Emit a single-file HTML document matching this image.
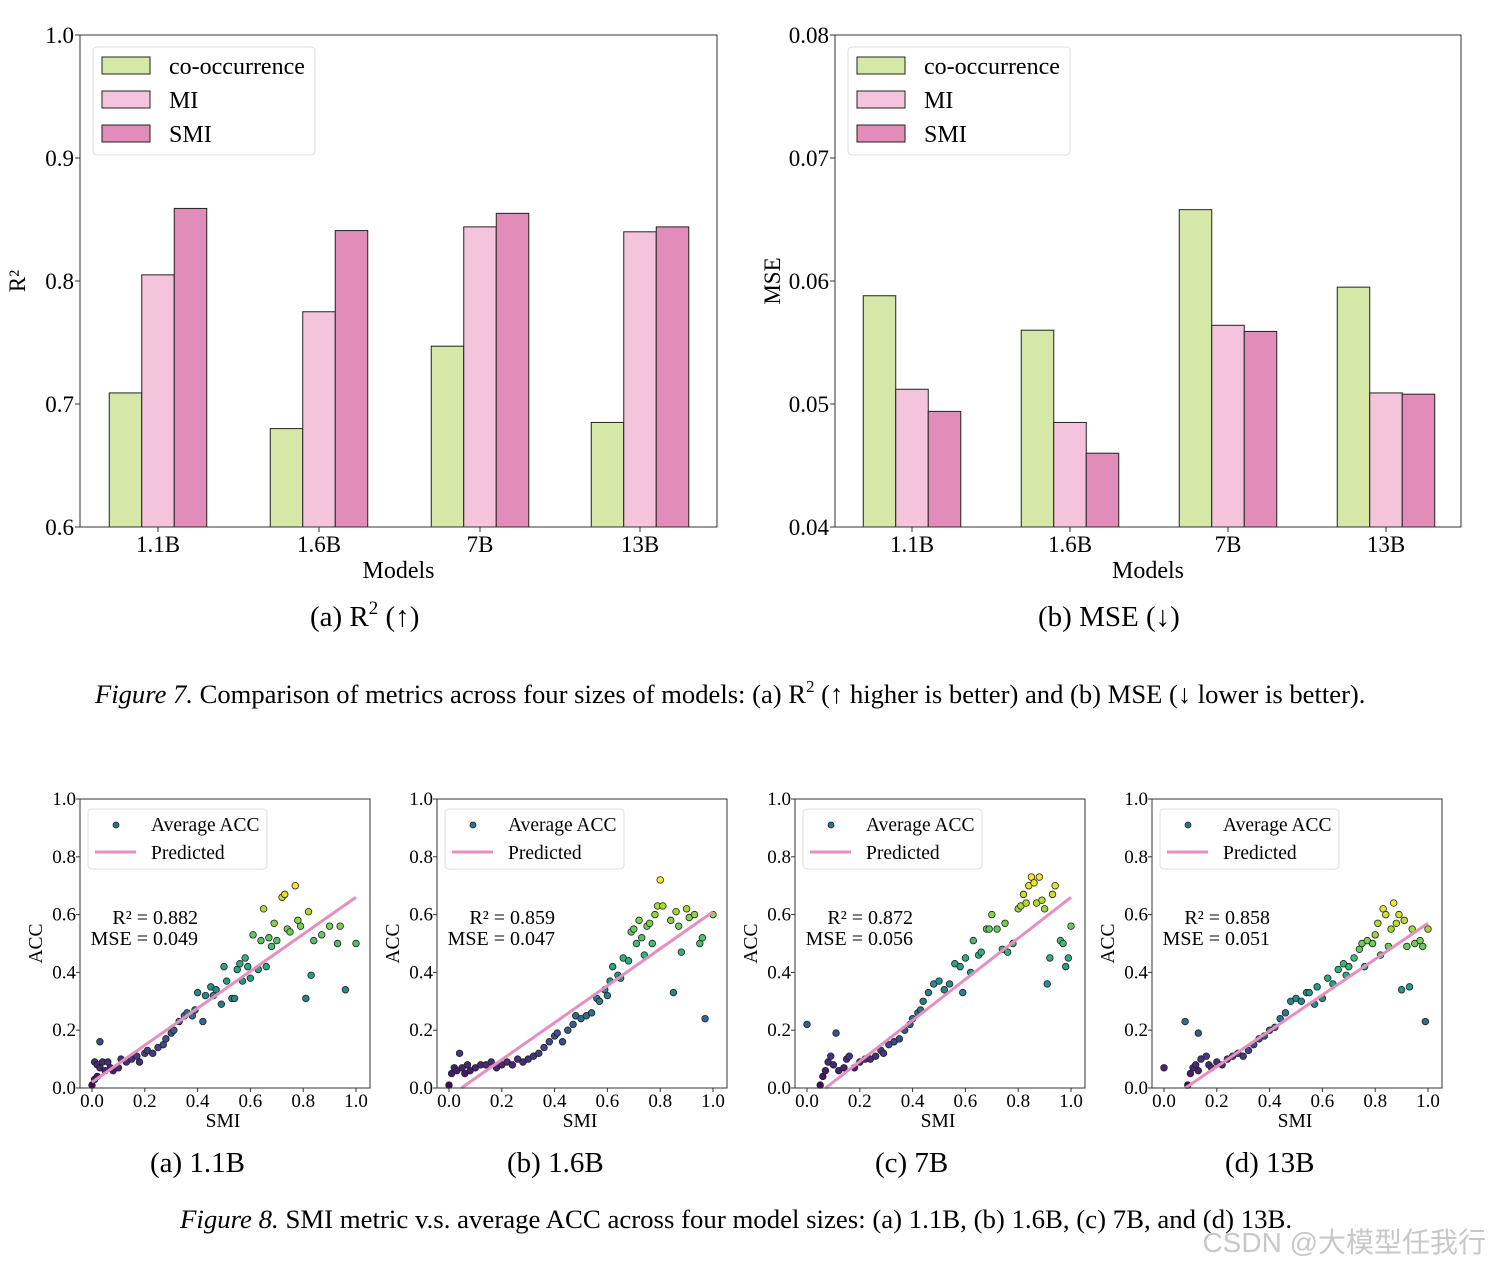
<!DOCTYPE html>
<html><head><meta charset="utf-8"><style>
body{margin:0;background:#fff;}
svg{display:block;font-family:"Liberation Serif","Noto Serif CJK SC",serif;}
</style></head><body>
<svg id="fig" width="1490" height="1268" viewBox="0 0 1490 1268" xmlns="http://www.w3.org/2000/svg">
<rect width="1490" height="1268" fill="#fff"/>
<text x="310" y="626" font-size="29">(a) R<tspan dy="-12" font-size="19">2</tspan><tspan dy="12"> (↑)</tspan></text>
<text x="1038" y="626" font-size="29">(b) MSE (↓)</text>
<text x="95" y="703" font-size="26.6"><tspan font-style="italic">Figure 7.</tspan> Comparison of metrics across four sizes of models: (a) R<tspan dy="-11" font-size="17">2</tspan><tspan dy="11"> (↑ higher is better) and (b) MSE (↓ lower is better).</tspan></text>
<text x="150" y="1172" font-size="29">(a) 1.1B</text>
<text x="507" y="1172" font-size="29">(b) 1.6B</text>
<text x="875" y="1172" font-size="29">(c) 7B</text>
<text x="1225" y="1172" font-size="29">(d) 13B</text>
<text x="180" y="1228" font-size="26.8"><tspan font-style="italic">Figure 8.</tspan> SMI metric v.s. average ACC across four model sizes: (a) 1.1B, (b) 1.6B, (c) 7B, and (d) 13B.</text>
<text x="1486" y="1252" font-size="28" text-anchor="end" fill="#c8c8c8" font-family="Liberation Sans,Noto Sans CJK SC,sans-serif">CSDN @大模型任我行</text>
</svg>
<script>
const models=["1.1B","1.6B","7B","13B"];
const seriesNames=["co-occurrence","MI","SMI"];
const r2Co=[0.709,0.680,0.747,0.685];
const r2MI=[0.805,0.775,0.844,0.840];
const r2SMI=[0.859,0.841,0.855,0.844];
const r2Ticks=["0.6","0.7","0.8","0.9","1.0"];
const mseCo=[0.0588,0.0560,0.0658,0.0595];
const mseMI=[0.0512,0.0485,0.0564,0.0509];
const mseSMI=[0.0494,0.0460,0.0559,0.0508];
const mseTicks=["0.04","0.05","0.06","0.07","0.08"];

const p1x=[0,0.01,0.01,0.02,0.02,0.03,0.03,0.04,0.05,0.06,0.07,0.08,0.1,0.11,0.13,0.15,0.17,0.18,0.2,0.21,0.23,0.25,0.27,0.28,0.3,0.31,0.33,0.35,0.36,0.38,0.39,0.4,0.42,0.43,0.45,0.46,0.47,0.49,0.5,0.51,0.53,0.54,0.55,0.56,0.57,0.58,0.59,0.6,0.61,0.63,0.64,0.65,0.66,0.67,0.68,0.69,0.7,0.72,0.73,0.74,0.75,0.77,0.78,0.79,0.81,0.82,0.83,0.84,0.87,0.9,0.93,0.94,0.96,1.0];
const p1y=[0.01,0.03,0.09,0.08,0.04,0.16,0.07,0.09,0.06,0.09,0.07,0.06,0.07,0.1,0.09,0.1,0.11,0.09,0.12,0.13,0.12,0.14,0.15,0.17,0.19,0.2,0.23,0.25,0.26,0.25,0.27,0.33,0.23,0.32,0.35,0.32,0.34,0.29,0.42,0.37,0.31,0.31,0.41,0.43,0.37,0.45,0.42,0.38,0.53,0.41,0.51,0.62,0.42,0.52,0.49,0.57,0.51,0.66,0.67,0.55,0.54,0.7,0.58,0.56,0.31,0.61,0.39,0.51,0.53,0.56,0.5,0.56,0.34,0.5];
const p1fit=[0.02,0.66];
const p2x=[0,0.01,0.02,0.03,0.04,0.05,0.06,0.07,0.08,0.1,0.12,0.14,0.16,0.18,0.2,0.22,0.24,0.26,0.28,0.3,0.32,0.34,0.36,0.38,0.4,0.41,0.43,0.45,0.47,0.48,0.5,0.52,0.54,0.56,0.57,0.59,0.6,0.61,0.62,0.64,0.65,0.66,0.68,0.69,0.7,0.71,0.72,0.73,0.74,0.75,0.76,0.77,0.79,0.8,0.81,0.78,0.84,0.85,0.86,0.87,0.88,0.9,0.91,0.93,0.95,0.96,0.97,1.0];
const p2y=[0.01,0.05,0.07,0.06,0.12,0.07,0.05,0.08,0.06,0.07,0.08,0.08,0.09,0.07,0.08,0.09,0.08,0.1,0.09,0.1,0.11,0.12,0.14,0.16,0.18,0.19,0.16,0.2,0.22,0.25,0.24,0.25,0.26,0.31,0.3,0.34,0.32,0.37,0.42,0.39,0.38,0.45,0.44,0.54,0.55,0.5,0.58,0.52,0.46,0.56,0.57,0.5,0.63,0.72,0.63,0.6,0.58,0.33,0.61,0.56,0.47,0.62,0.59,0.6,0.5,0.52,0.24,0.6];
const p2fit=[-0.03,0.61];
const p3x=[0,0.05,0.06,0.07,0.08,0.09,0.1,0.11,0.12,0.14,0.15,0.16,0.18,0.2,0.22,0.24,0.26,0.28,0.29,0.31,0.33,0.35,0.37,0.39,0.4,0.42,0.43,0.44,0.46,0.48,0.5,0.52,0.54,0.56,0.58,0.59,0.6,0.62,0.63,0.65,0.66,0.68,0.69,0.7,0.72,0.74,0.75,0.76,0.78,0.8,0.81,0.82,0.83,0.84,0.85,0.86,0.87,0.88,0.89,0.9,0.91,0.92,0.93,0.94,0.96,0.97,0.98,0.99,1.0];
const p3y=[0.22,0.01,0.04,0.06,0.09,0.11,0.08,0.19,0.06,0.07,0.1,0.11,0.07,0.09,0.1,0.1,0.11,0.13,0.12,0.15,0.16,0.17,0.2,0.22,0.24,0.26,0.27,0.3,0.33,0.36,0.37,0.34,0.36,0.43,0.42,0.33,0.45,0.4,0.51,0.46,0.47,0.55,0.55,0.6,0.55,0.48,0.57,0.47,0.5,0.62,0.63,0.67,0.64,0.7,0.73,0.71,0.64,0.73,0.65,0.62,0.36,0.45,0.67,0.7,0.51,0.5,0.42,0.45,0.56];
const p3fit=[-0.05,0.66];
const p4x=[0,0.08,0.13,0.09,0.1,0.11,0.12,0.13,0.14,0.16,0.17,0.18,0.2,0.22,0.24,0.26,0.28,0.3,0.32,0.34,0.36,0.38,0.4,0.42,0.44,0.46,0.48,0.5,0.52,0.54,0.55,0.57,0.58,0.6,0.62,0.64,0.66,0.68,0.69,0.7,0.72,0.74,0.75,0.76,0.77,0.79,0.8,0.81,0.82,0.83,0.84,0.85,0.86,0.87,0.88,0.89,0.9,0.91,0.92,0.93,0.94,0.95,0.97,0.98,0.99,1.0];
const p4y=[0.07,0.23,0.19,0.01,0.05,0.07,0.08,0.06,0.1,0.11,0.08,0.07,0.09,0.08,0.1,0.11,0.12,0.11,0.13,0.15,0.17,0.18,0.2,0.21,0.24,0.26,0.3,0.31,0.3,0.33,0.33,0.29,0.35,0.31,0.38,0.36,0.41,0.43,0.39,0.42,0.45,0.48,0.5,0.42,0.51,0.5,0.53,0.57,0.46,0.62,0.6,0.49,0.55,0.64,0.57,0.6,0.34,0.58,0.49,0.35,0.55,0.5,0.51,0.49,0.23,0.55];
const p4fit=[-0.05,0.57];
const r2Labels=["0.882","0.859","0.872","0.858"];
const mseLabels=["0.049","0.047","0.056","0.051"];
const axTicks=["0.0","0.2","0.4","0.6","0.8","1.0"];

const NS="http://www.w3.org/2000/svg";
const svg=document.getElementById('fig');
function el(tag,attrs,parent,text){const e=document.createElementNS(NS,tag);for(const k in attrs)e.setAttribute(k,attrs[k]);if(text!==undefined)e.textContent=text;(parent||svg).appendChild(e);return e;}
const colors=["#d5e8a8","#f4c4dc","#e28cba"];

function barChart(name,x0,x1,y0,y1,vmin,vmax,ticks,series,ylabel,centers){
  const g=el('g',{});
  
  
  const ys=v=>y1-(v-vmin)/(vmax-vmin)*(y1-y0);
  const bw=32.5;
  series.forEach((s,si)=>{s.forEach((v,i)=>{
    const b=el('rect',{x:centers[i]+(si-1.5)*bw,y:ys(v),width:bw,height:y1-ys(v),fill:colors[si],stroke:'#222','stroke-width':1},g);
    
    
  });});
  el('rect',{x:x0,y:y0,width:x1-x0,height:y1-y0,fill:'none',stroke:'#333','stroke-width':1},g);
  ticks.forEach((t,i)=>{const v=vmin+i*(vmax-vmin)/(ticks.length-1);const y=ys(v);
    el('line',{x1:x0-5,x2:x0,y1:y,y2:y,stroke:'#333'},g);
    const tx=el('text',{x:x0-6,y:y+8,'font-size':23,'text-anchor':'end'},g,t);
    
    });
  models.forEach((m,i)=>{el('line',{x1:centers[i],x2:centers[i],y1:y1,y2:y1+5,stroke:'#333'},g);
    const tx=el('text',{x:centers[i],y:y1+25,'font-size':23,'text-anchor':'middle'},g,m);
    
    });
  const xl=el('text',{x:(x0+x1)/2,y:y1+51,'font-size':24,'text-anchor':'middle'},g,'Models');
  
  
  const yl=el('text',{x:0,y:0,'font-size':23,'text-anchor':'middle',transform:`translate(${x0-55},${(y0+y1)/2}) rotate(-90)`},g,ylabel);
  
  
  const lg=el('g',{},g);
  
  
  el('rect',{x:x0+13,y:y0+12,width:222,height:108,rx:4,fill:'#fff',stroke:'#ddd'},lg);
  seriesNames.forEach((n,i)=>{const yy=y0+22+i*34;
    el('rect',{x:x0+22,y:yy,width:48,height:17,fill:colors[i],stroke:'#222'},lg);
    const t=el('text',{x:x0+89,y:yy+17,'font-size':24},lg,n);
    
    });
}
barChart('r2-bar-chart',80,717,35,527,0.6,1.0,r2Ticks,[r2Co,r2MI,r2SMI],'R²',[158,319,480,640]);
barChart('mse-bar-chart',835,1461,35,527,0.04,0.08,mseTicks,[mseCo,mseMI,mseSMI],'MSE',[912,1070,1228,1386]);

const vir=[[68,1,84],[72,40,120],[62,74,137],[49,104,142],[38,130,142],[31,158,137],[53,183,121],[109,205,89],[180,222,44],[253,231,37]];
function viridis(t){t=Math.max(0,Math.min(1,t))*(vir.length-1);const i=Math.min(vir.length-2,Math.floor(t)),f=t-i;const c=vir[i].map((a,k)=>Math.round(a+(vir[i+1][k]-a)*f));return `rgb(${c})`;}

function scatter(idx,ox,xs,ys,fit){
  const x0=ox,x1=ox+290,y0=799,y1=1088;
  const g=el('g',{});
  
  
  const sx=v=>x0+12+v*264, sy=v=>y1-v*(y1-y0);
  const ymax=Math.max(...ys);
  xs.forEach((x,i)=>{const c=el('circle',{cx:sx(x),cy:sy(ys[i]),r:3.3,fill:viridis(ys[i]/ymax),stroke:'#222','stroke-width':0.8},g);
    
    });
  let xa=0,ya=fit[0];const slope=fit[1]-fit[0];
  if(ya<0){xa=-fit[0]/slope;ya=0;}
  const ln=el('line',{x1:sx(xa),y1:sy(ya),x2:sx(1),y2:sy(fit[1]),stroke:'#e68fbf','stroke-width':3},g);
  
  
  el('rect',{x:x0,y:y0,width:x1-x0,height:y1-y0,fill:'none',stroke:'#333'},g);
  axTicks.forEach((t,i)=>{const v=i*0.2;
    el('line',{x1:x0-4,x2:x0,y1:sy(v),y2:sy(v),stroke:'#333'},g);
    const a=el('text',{x:x0-4,y:sy(v)+6,'font-size':19,'text-anchor':'end'},g,t);
    
    
    el('line',{x1:sx(v),x2:sx(v),y1:y1,y2:y1+4,stroke:'#333'},g);
    const b=el('text',{x:sx(v),y:y1+19,'font-size':19,'text-anchor':'middle'},g,t);
    
    });
  const xt=el('text',{x:(x0+x1)/2-2,y:y1+39,'font-size':19.5,'text-anchor':'middle'},g,'SMI');
  
  
  const yt=el('text',{x:0,y:0,'font-size':19.5,'text-anchor':'middle',transform:`translate(${x0-38},${(y0+y1)/2}) rotate(-90)`},g,'ACC');
  
  
  const lg=el('g',{},g);
  
  
  el('rect',{x:x0+8,y:y0+10,width:179,height:60,rx:4,fill:'#fff',stroke:'#ddd'},lg);
  el('circle',{cx:x0+36,cy:y0+26,r:3,fill:'#2c728e',stroke:'#222','stroke-width':0.8},lg);
  el('text',{x:x0+71,y:y0+32,'font-size':19.5},lg,'Average ACC');
  el('line',{x1:x0+15,x2:x0+56,y1:y0+53,y2:y0+53,stroke:'#e68fbf','stroke-width':3},lg);
  el('text',{x:x0+71,y:y0+60,'font-size':19.5},lg,'Predicted');
  const s1=el('text',{x:x0+118,y:924,'font-size':20,'text-anchor':'end'},g,'R² = '+r2Labels[idx]);
  
  
  const s2=el('text',{x:x0+118,y:945,'font-size':20,'text-anchor':'end'},g,'MSE = '+mseLabels[idx]);
  
  
}
scatter(0,80,p1x,p1y,p1fit);
scatter(1,437,p2x,p2y,p2fit);
scatter(2,795,p3x,p3y,p3fit);
scatter(3,1152,p4x,p4y,p4fit);
</script>
</body></html>
